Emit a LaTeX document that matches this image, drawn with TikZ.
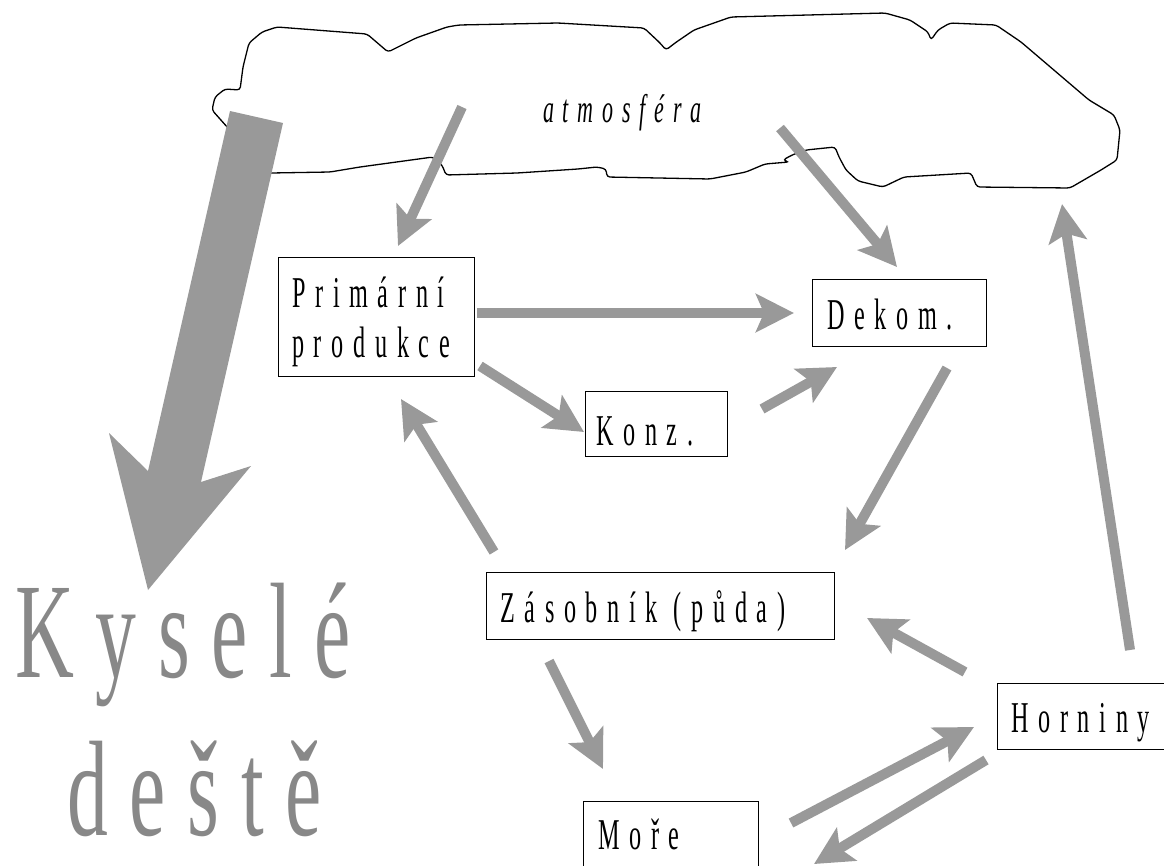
\documentclass[tikz,border=0pt]{standalone}
\usepackage{fontspec}
\setmainfont{Liberation Serif}
\newfontfamily\nfont[FakeStretch=0.55,LetterSpace=22]{Liberation Serif}
\newfontfamily\bigfont[FakeStretch=0.6,LetterSpace=16]{Liberation Serif}
\usetikzlibrary{arrows.meta}
\definecolor{arrgray}{HTML}{999999}
\definecolor{txtgray}{HTML}{888888}
\tikzset{
  flow/.style={draw=arrgray, line width=10pt, -{Stealth[length=38pt,width=38pt,inset=8pt]}},
  boxshape/.style={draw=black, line width=1.3pt, inner sep=0pt, anchor=north west},
  boxtext/.style={anchor=base west, inner sep=0pt, font=\nfont\fontsize{44}{50}\selectfont},
  cloudline/.style={draw=black, line width=1.3pt, rounded corners=3pt},
  bigtext/.style={anchor=base west, inner sep=0pt, text=txtgray, font=\bigfont\fontsize{136}{140}\selectfont},
}
\begin{document}
\begin{tikzpicture}[x=1pt,y=-1pt]
\useasboundingbox (0,0) rectangle (1164,865);
% cloud
\draw[cloudline] (250,173) -- (271,173) -- (330,172) -- (360,167) -- (433,157) -- (442,165) -- (446,175) -- (517,173) -- (578,169) -- (597,167) -- (606,169) -- (607,177) -- (710,179) -- (746,172) -- (765,164) -- (789,162) -- (783,160) -- (792,155) -- (806,150) -- (835,147) -- (839,157) -- (846,170) -- (858,181) -- (883,187) -- (904,177) -- (971,173) -- (977,187) -- (1070,188) -- (1101,170) -- (1117,160) -- (1120,130) -- (1114,115) -- (1089,100) -- (1021,42) -- (996,25) -- (950,23) -- (938,30) -- (931,40) -- (928,32) -- (910,20) -- (885,13) -- (731,17) -- (694,30) -- (675,43) -- (666,50) -- (660,43) -- (644,28) -- (558,23) -- (459,25) -- (447,27) -- (416,38) -- (388,52) -- (367,34) -- (277,27) -- (262,32) -- (249,43) -- (243,67) -- (240,90) -- (225,89) -- (215,97) -- (212,110) -- (228,128) -- (240,135);
\node[anchor=base west, inner sep=0pt, font=\nfont\itshape\fontsize{40}{44}\selectfont] (atm) at (543,122) {atmosféra};

% boxes
\node[boxshape, minimum width=196pt, minimum height=119pt] (prim) at (278,257) {};
\node[boxshape, minimum width=174pt, minimum height=67pt] (dek) at (812,279) {};
\node[boxshape, minimum width=142pt, minimum height=65pt] (konz) at (585,391) {};
\node[boxshape, minimum width=348pt, minimum height=67pt] (zas) at (486,572) {};
\node[boxshape, minimum width=180pt, minimum height=66pt] (horn) at (997,683) {};
\node[boxshape, minimum width=175pt, minimum height=90pt] (more) at (583,801) {};

\node[boxtext] (primt1) at (292,307) {Primární};
\node[boxtext] (primt2) at (292,357) {produkce};
\node[boxtext] (dekt) at (827,329) {Dekom.};
\node[boxtext] (konzt) at (596,445) {Konz.};
\node[boxtext] (zast) at (500,622) {Zásobník (půda)};
\node[boxtext] (hornt) at (1011,732) {Horniny};
\node[boxtext] (moret) at (598,849) {Moře};

% arrow end points
\coordinate (a1s) at (462,107); \coordinate (a1e) at (398,246);
\coordinate (a2s) at (780,128); \coordinate (a2e) at (897,267);
\coordinate (a3s) at (477,313); \coordinate (a3e) at (794,313);
\coordinate (a4s) at (480,366); \coordinate (a4e) at (584,432);
\coordinate (a5s) at (762,409); \coordinate (a5e) at (837,367);
\coordinate (a6s) at (947,368); \coordinate (a6e) at (845,550);
\coordinate (a7s) at (494,552); \coordinate (a7e) at (401,399);
\coordinate (a8s) at (549,661); \coordinate (a8e) at (603,769);
\coordinate (a9s) at (965,672); \coordinate (a9e) at (867,618);
\coordinate (a10s) at (791,823); \coordinate (a10e) at (974,727);
\coordinate (a11s) at (986,760); \coordinate (a11e) at (814,864);
\coordinate (a12s) at (1130,650); \coordinate (a12e) at (1062,204);

\draw[flow] (a1s) -- (a1e);
\draw[flow] (a2s) -- (a2e);
\draw[flow] (a3s) -- (a3e);
\draw[flow] (a4s) -- (a4e);
\draw[flow] (a5s) -- (a5e);
\draw[flow] (a6s) -- (a6e);
\draw[flow] (a7s) -- (a7e);
\draw[flow] (a8s) -- (a8e);
\draw[flow] (a9s) -- (a9e);
\draw[flow] (a10s) -- (a10e);
\draw[flow] (a11s) -- (a11e);
\draw[flow] (a12s) -- (a12e);

% big arrow
\fill[arrgray] (230,111) -- (283,123) -- (201,482) -- (251,466) -- (148,590) -- (109,433) -- (148,471) -- cycle;

% big text
\node[bigtext] (kys) at (15,677) {Kyselé};
\node[bigtext] (des) at (67,835) {deště};
\end{tikzpicture}
\end{document}
